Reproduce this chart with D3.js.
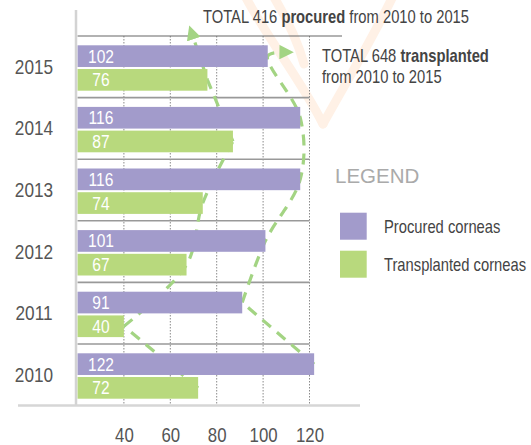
<!DOCTYPE html>
<html>
<head>
<meta charset="utf-8">
<script src="https://cdn.jsdelivr.net/npm/d3@7"></script>
<style>
  html, body { margin: 0; padding: 0; background: #fff; }
  svg { display: block; }
</style>
</head>
<body>
<svg id="chart" width="531" height="445"></svg>
<script>
// Corneas procured and transplanted per year
const years = ["2015", "2014", "2013", "2012", "2011", "2010"];
const procured = [102, 116, 116, 101, 91, 122];
const transplanted = [76, 87, 74, 67, 40, 72];
const tickValues = [40, 60, 80, 100, 120];
const seriesNames = ["Procured corneas", "Transplanted corneas"];
const totalProcured = 416;
const totalTransplanted = 648;

const purple = "#a29bcb";
const green = "#b8d97d";
const dashGreen = "#a3d483";
const FONT = "'Liberation Sans', Arial, sans-serif";
const SX = 0.82; // horizontal squeeze for a narrow face

const svg = d3.select("#chart");

// narrow text helper: regular face squeezed horizontally
function ntext(parent, x, y, size, anchor) {
  return parent.append("text")
    .attr("transform", `translate(${x},${y}) scale(${SX},1)`)
    .attr("text-anchor", anchor || "start")
    .style("font-family", FONT).style("font-size", size + "px");
}

const x = d3.scaleLinear().domain([20, 120]).range([77.5, 309.5]);
const y = d3.scaleBand().domain(years).range([36, 405.6]);
const bw = y.bandwidth();
const barH = bw * 0.352;
const offP = bw * 0.151;
const offT = bw * 0.536;

// faint decorative mark behind the top of the chart
const deco = svg.append("g").attr("fill", "none").attr("stroke", "#fff1e6")
  .attr("stroke-width", 9).attr("stroke-linecap", "round");
deco.append("path").attr("d", "M244,-6 C268,40 300,78 323,124");
deco.append("path").attr("d", "M272,-6 C288,20 298,42 304,64");
deco.append("path").attr("d", "M394,-6 C372,40 345,84 323,124");

// vertical gridlines (dotted)
svg.append("g").selectAll("line").data(tickValues).join("line")
  .attr("x1", d => x(d)).attr("x2", d => x(d))
  .attr("y1", 36).attr("y2", 405)
  .attr("stroke", "#8a8a8a").attr("stroke-width", 1).attr("stroke-dasharray", "1.5,1.5");

// band separators
svg.append("g").selectAll("line").data(years).join("line")
  .attr("x1", x(20))
  .attr("x2", (d, i) => i === 0 ? 342 : x(120))
  .attr("y1", d => y(d)).attr("y2", d => y(d))
  .attr("stroke", (d, i) => i === 0 ? "#666" : "#999")
  .attr("stroke-width", (d, i) => i === 0 ? 1.2 : 1.6);

// arrow marker for the trend paths
const defs = svg.append("defs");
defs.append("marker").attr("id", "arrow")
  .attr("viewBox", "0 0 10 10").attr("refX", 3).attr("refY", 5)
  .attr("markerWidth", 4.5).attr("markerHeight", 4.5)
  .attr("markerUnits", "strokeWidth").attr("orient", "auto")
  .append("path").attr("d", "M0,0 L10,5 L0,10 Z").attr("fill", dashGreen);

const cy = (yr, off) => y(yr) + off + barH / 2;

// trend of transplanted corneas, 2010 -> 2015
const tPts = years.map((yr, i) => [x(transplanted[i]), cy(yr, offT)]).reverse();
const tTip = [x(transplanted[0]) - 15, y(years[0]) - 1];
// trend of procured corneas, 2010 -> 2015
const pPts = years.map((yr, i) => [x(procured[i]), cy(yr, offP)]).reverse();
const pTip = [x(procured[0]) + 16, cy(years[0], offP) - 4];

const lin = d3.line();
const smooth = d3.line().curve(d3.curveCatmullRom.alpha(0.5));
const trend = svg.append("g").attr("fill", "none").attr("stroke", dashGreen)
  .attr("stroke-width", 3.2).attr("stroke-dasharray", "11,8");

trend.append("path").attr("d", lin([tPts[0], tPts[1]]));
trend.append("path").attr("d", smooth(tPts.slice(1, 5)));
trend.append("path").attr("d", lin([tPts[4], tPts[5], tTip])).attr("marker-end", "url(#arrow)");

trend.append("path").attr("d", lin([pPts[0], pPts[1]]));
trend.append("path").attr("d", smooth(pPts.slice(1).concat([pTip]))).attr("marker-end", "url(#arrow)");

// bars
const rows = svg.append("g").selectAll("g").data(years).join("g");
rows.append("rect")
  .attr("x", x(20)).attr("y", d => y(d) + offP)
  .attr("width", (d, i) => x(procured[i]) - x(20)).attr("height", barH)
  .attr("fill", purple);
rows.append("rect")
  .attr("x", x(20)).attr("y", d => y(d) + offT)
  .attr("width", (d, i) => x(transplanted[i]) - x(20)).attr("height", barH)
  .attr("fill", green);

// value labels inside bars
rows.each(function (d, i) {
  const g = d3.select(this);
  ntext(g, 101, cy(d, offP) + 6.5, 19, "middle").attr("fill", "#fff").text(procured[i]);
  ntext(g, 101, cy(d, offT) + 6.5, 19, "middle").attr("fill", "#fff").text(transplanted[i]);
});

// axes frame
svg.append("line").attr("x1", 76).attr("x2", 76).attr("y1", 10).attr("y2", 405)
  .attr("stroke", "#d3d3d3").attr("stroke-width", 2.5);
svg.append("line").attr("x1", 18).attr("x2", 360).attr("y1", 405.5).attr("y2", 405.5)
  .attr("stroke", "#d6d6d6").attr("stroke-width", 2.5);

// x axis labels
const xAxis = svg.append("g").attr("transform", "translate(0,405.5)")
  .call(d3.axisBottom(x).tickValues(tickValues).tickSize(0));
xAxis.select(".domain").remove();
xAxis.selectAll("text")
  .attr("y", null).attr("dy", null)
  .attr("transform", `translate(0,36) scale(${SX},1)`)
  .attr("fill", "#555")
  .style("font-family", FONT).style("font-size", "20.5px");

// y axis labels
const yAxis = svg.append("g").attr("transform", "translate(34,0)")
  .call(d3.axisLeft(y).tickSize(0).tickPadding(0));
yAxis.select(".domain").remove();
yAxis.selectAll("text")
  .attr("x", null).attr("dy", null)
  .attr("transform", `translate(0,7) scale(${SX},1)`)
  .attr("text-anchor", "middle").attr("fill", "#555")
  .style("font-family", FONT).style("font-size", "21px");

// totals
const t1 = ntext(svg, 203, 23, 18).attr("fill", "#444");
t1.append("tspan").text(`TOTAL ${totalProcured} `);
t1.append("tspan").attr("font-weight", "bold").text("procured");
t1.append("tspan").text(" from 2010 to 2015");

const t2 = ntext(svg, 322, 62, 18).attr("fill", "#444");
t2.append("tspan").text(`TOTAL ${totalTransplanted} `);
t2.append("tspan").attr("font-weight", "bold").text("transplanted");
ntext(svg, 322, 82.5, 18).attr("fill", "#444").text("from 2010 to 2015");

// legend
svg.append("text").attr("x", 335).attr("y", 183).attr("fill", "#aaa")
  .style("font-family", FONT).style("font-size", "20.5px").text("LEGEND");
const lg = svg.append("g").selectAll("g").data(seriesNames).join("g")
  .attr("transform", (d, i) => `translate(340,${212.7 + i * 38})`);
lg.append("rect").attr("width", 26.7).attr("height", 27)
  .attr("fill", (d, i) => i === 0 ? purple : green);
lg.each(function (d) {
  ntext(d3.select(this), 44, 20, 18).attr("fill", "#444").text(d);
});
</script>
</body>
</html>
